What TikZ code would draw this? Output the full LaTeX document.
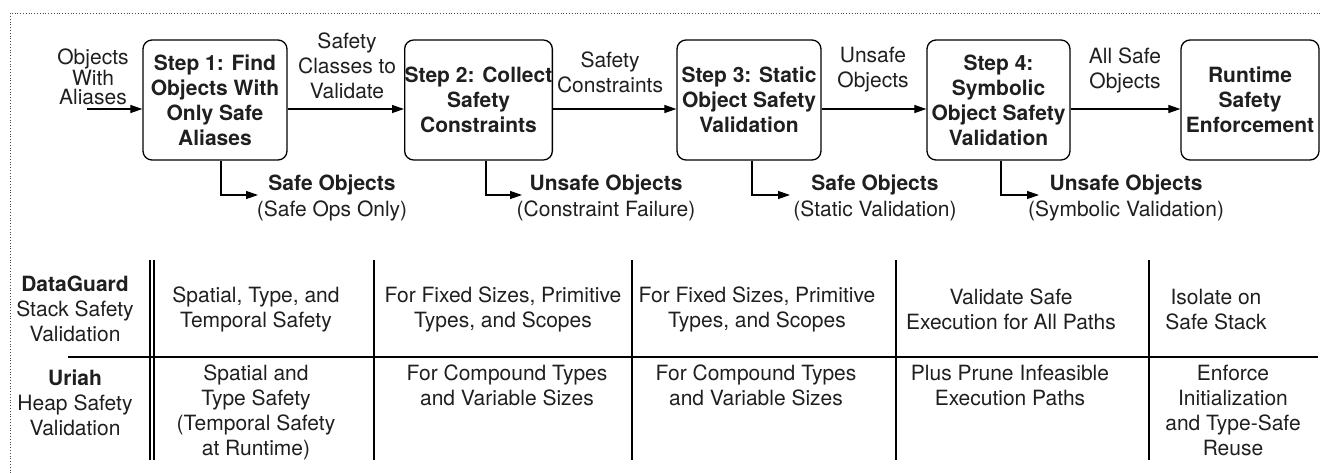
\documentclass[tikz,border=0pt]{standalone}
\usepackage{fontspec}
\setmainfont{TeX Gyre Heros}
\usetikzlibrary{arrows.meta}
\begin{document}
\begin{tikzpicture}[x=1pt,y=-1pt,
  every node/.style={font=\fontsize{21}{25}\selectfont, text=black!88, inner sep=0pt, align=center},
  stepbox/.style={draw, line width=1.3pt, rounded corners=9pt, minimum height=120pt, font=\fontsize{21}{25}\selectfont\bfseries},
  arr/.style={-{Triangle[length=12pt,width=8pt]}, line width=1.2pt},
  tline/.style={line width=1.2pt},
  frame/.style={dotted, line width=0.8pt, black!70}]
\useasboundingbox (0,0) rectangle (1320,472);
\draw[frame] (10,490) -- (10,13) -- (1340,13);

% step boxes
\node[stepbox, minimum width=144pt] (s1) at (215,100) {Step 1: Find\\Objects With\\Only Safe\\Aliases};
\node[stepbox, minimum width=143pt] (s2) at (478.5,100) {Step 2: Collect\\Safety\\Constraints};
\node[stepbox, minimum width=144pt] (s3) at (749,100) {Step 3: Static\\Object Safety\\Validation};
\node[stepbox, minimum width=143pt] (s4) at (998.5,100) {Step 4:\\Symbolic\\Object Safety\\Validation};
\node[stepbox, minimum width=138pt] (rt) at (1250,100) {Runtime\\Safety\\Enforcement};

% main flow
\coordinate (ay) at (0,109);
\coordinate (in) at (87,109);
\draw[arr] (in) -- (s1.west |- ay);
\draw[arr] (s1.east |- ay) -- (s2.west |- ay);
\draw[arr] (s2.east |- ay) -- (s3.west |- ay);
\draw[arr] (s3.east |- ay) -- (s4.west |- ay);
\draw[arr] (s4.east |- ay) -- (rt.west |- ay);

% labels above arrows
\node[font=\fontsize{21}{19.5}\selectfont] (lin) at (93,77) {Objects\\With\\Aliases};
\node (l12) at (347,66) {Safety\\Classes to\\Validate};
\node (l23) at (610,72) {Safety\\Constraints};
\node (l34) at (873,70) {Unsafe\\Objects};
\node (l45) at (1125,70) {All Safe\\Objects};

% side outputs
\coordinate (o1) at (258,195);
\coordinate (o2) at (522,195);
\coordinate (o3) at (790,195);
\coordinate (o4) at (1039,195);
\draw[arr] ([xshift=6pt]s1.south) |- (o1);
\draw[arr] ([xshift=7.5pt]s2.south) |- (o2);
\draw[arr] ([xshift=3pt]s3.south) |- (o3);
\draw[arr] ([xshift=2.5pt]s4.south) |- (o4);
\node[font=\fontsize{21}{26}\selectfont] (r1) at (332,198) {\textbf{Safe Objects}\\(Safe Ops Only)};
\node[font=\fontsize{21}{26}\selectfont] (r2) at (606,198) {\textbf{Unsafe Objects}\\(Constraint Failure)};
\node[font=\fontsize{21}{26}\selectfont] (r3) at (875,198) {\textbf{Safe Objects}\\(Static Validation)};
\node[font=\fontsize{21}{26}\selectfont] (r4) at (1126,198) {\textbf{Unsafe Objects}\\(Symbolic Validation)};

% table
\draw[tline] (68,357) -- (1318,357);
\foreach \xx in {150,154,374,632,896,1149} {\draw[tline] (\xx,260) -- (\xx,460);}

\node (h1) at (75,309) {\textbf{DataGuard}\\Stack Safety\\Validation};
\node (h2) at (75,403) {\textbf{Uriah}\\Heap Safety\\Validation};

\node (c11) at (256,309.5) {Spatial, Type, and\\Temporal Safety};
\node (c12) at (503,309.5) {For Fixed Sizes, Primitive\\Types, and Scopes};
\node (c13) at (757,309.5) {For Fixed Sizes, Primitive\\Types, and Scopes};
\node (c14) at (1011,309.5) {Validate Safe\\Execution for All Paths};
\node (c15) at (1216,309.5) {Isolate on\\Safe Stack};

\node[anchor=north] (c21) at (256,365) {Spatial and\\Type Safety\\(Temporal Safety\\at Runtime)};
\node[anchor=north] (c22) at (507,365) {For Compound Types\\and Variable Sizes};
\node[anchor=north] (c23) at (756,365) {For Compound Types\\and Variable Sizes};
\node[anchor=north] (c24) at (1010,365) {Plus Prune Infeasible\\Execution Paths};
\node[anchor=north] (c25) at (1233,365) {Enforce\\Initialization\\and Type-Safe\\Reuse};
\end{tikzpicture}
\end{document}
